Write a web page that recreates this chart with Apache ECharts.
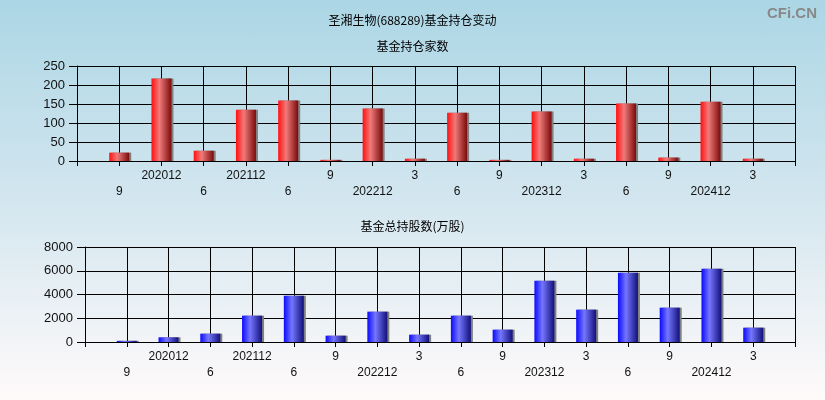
<!DOCTYPE html>
<html>
<head>
<meta charset="utf-8">
<script src="https://cdn.jsdelivr.net/npm/echarts@6/dist/echarts.min.js"></script>
<style>
html,body{margin:0;padding:0;}
#c{width:825px;height:400px;background:linear-gradient(to bottom,#acd6e5 0%,#d3e6ef 50%,#fffafa 100%);}
</style>
</head>
<body>
<div id="c"></div>
<script>
const periods = ['9','202012','6','202112','6','9','202212','3','6','9','202312','3','6','9','202412','3'];
const fundCount = [22,217,27,135,159,3,138,6,127,3,130,6,151,9,156,6];
const fundShares = [100,393,702,2217,3902,533,2554,617,2217,1038,5165,2723,5839,2891,6175,1207];

const cats = [''].concat(periods).concat(['']);
const pad = a => ['-'].concat(a).concat(['-']);

const chart = echarts.init(document.getElementById('c'), null, {renderer:'canvas'});
const FONT = 'Liberation Sans, Arial, sans-serif';
const CJK = '"Noto Sans CJK SC", sans-serif';

function xAxis(gi){
  return {
    type:'category', gridIndex:gi, data:cats, boundaryGap:false,
    axisLine:{lineStyle:{color:'#000',width:1}},
    axisTick:{show:true,length:5,interval:0,lineStyle:{color:'#000'}},
    splitLine:{show:true,interval:0,lineStyle:{color:'#000',width:1}},
    axisLabel:{interval:0,margin:7,fontSize:12,lineHeight:16,color:'#111',fontFamily:FONT,
      formatter:(v,i)=> (i%2===1 ? '\n'+v : v)}
  };
}
function yAxis(gi,max,interval){
  return {
    type:'value', gridIndex:gi, min:0, max:max, interval:interval,
    axisLine:{show:true,lineStyle:{color:'#000',width:1}},
    axisTick:{show:true,length:8,lineStyle:{color:'#000'}},
    splitLine:{show:true,lineStyle:{color:'#000',width:1}},
    axisLabel:{margin:12,fontSize:13,color:'#111',fontFamily:FONT,formatter:v=>String(v)}
  };
}
function grad(c0,c1,c2){
  return new echarts.graphic.LinearGradient(0,0,1,0,[
    {offset:0,color:c0},{offset:0.4,color:c1},{offset:1,color:c2}]);
}

chart.setOption({
  backgroundColor:'transparent',
  animation:false,
  title:[
    {text:'圣湘生物(688289)基金持仓变动',left:'center',top:9,textStyle:{fontSize:12,fontWeight:'normal',color:'#000',fontFamily:CJK}},
    {text:'基金持仓家数',left:'center',top:35,textStyle:{fontSize:12,fontWeight:'normal',color:'#000',fontFamily:CJK}},
    {text:'基金总持股数(万股)',left:'center',top:215,textStyle:{fontSize:12,fontWeight:'normal',color:'#000',fontFamily:CJK}},
    {text:'CFi.CN',right:3,top:1,textStyle:{fontSize:15,fontWeight:'bold',color:'#888',fontFamily:FONT}}
  ],
  grid:[
    {left:77,right:30,top:66,height:95},
    {left:85,right:30,top:247,height:95}
  ],
  xAxis:[xAxis(0),xAxis(1)],
  yAxis:[yAxis(0,250,50),yAxis(1,8000,2000)],
  series:[
    {type:'bar',xAxisIndex:0,yAxisIndex:0,data:pad(fundCount),barWidth:20,
      itemStyle:{color:grad('#ff1010','#f07a7a','#7a0a0a'),shadowColor:'#808080',shadowOffsetX:2,shadowBlur:0}},
    {type:'bar',xAxisIndex:1,yAxisIndex:1,data:pad(fundShares),barWidth:20,
      itemStyle:{color:grad('#0a0aff','#7676ff','#10107a'),shadowColor:'#808080',shadowOffsetX:2,shadowBlur:0}}
  ]
});
</script>
</body>
</html>
